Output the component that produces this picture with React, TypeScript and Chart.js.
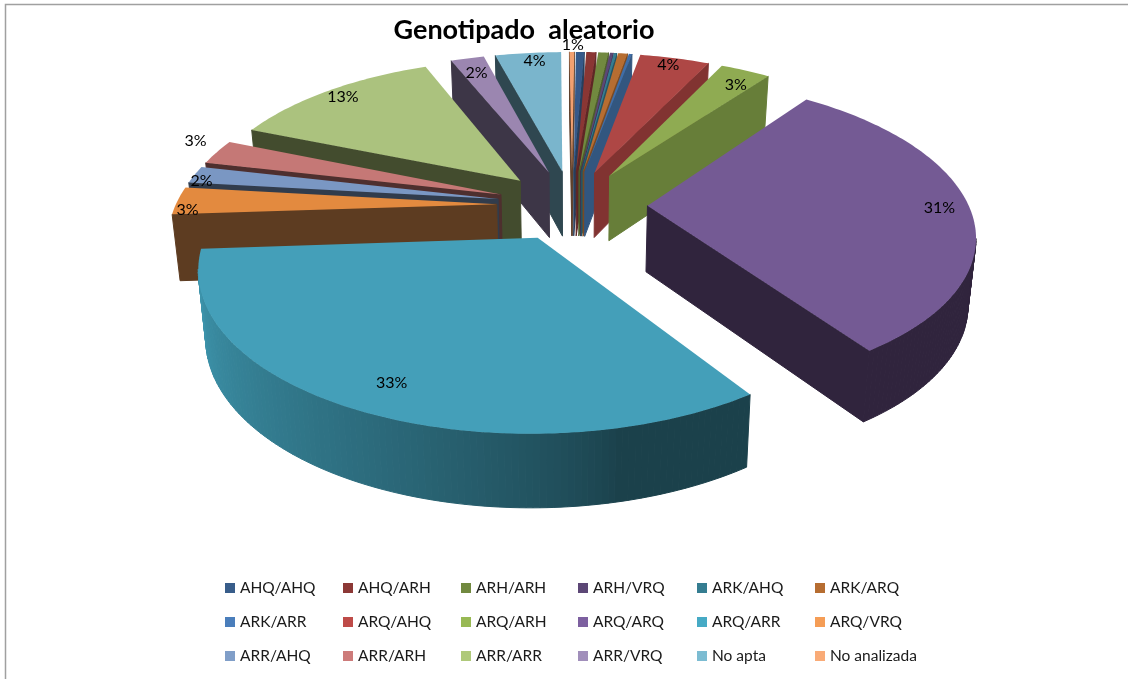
import React, { useEffect, useRef } from "react";
import { Chart, registerables } from "chart.js";

Chart.register(...registerables);

const categories = [
  "AHQ/AHQ", "AHQ/ARH", "ARH/ARH", "ARH/VRQ", "ARK/AHQ", "ARK/ARQ",
  "ARK/ARR", "ARQ/AHQ", "ARQ/ARH", "ARQ/ARQ", "ARQ/ARR", "ARQ/VRQ",
  "ARR/AHQ", "ARR/ARH", "ARR/ARR", "ARR/VRQ", "No apta", "No analizada",
];
const shares = [0.5, 0.58, 0.61, 0.19, 0.17, 0.56, 0.19, 4.19, 3.0, 30.41, 33.39, 2.89, 1.78, 2.61, 12.67, 2.0, 3.97, 0.29];
const percentLabels = ["", "", "", "", "", "", "", "4%", "3%", "31%", "33%", "3%", "2%", "3%", "13%", "2%", "4%", "1%"];
const legendColors = [
  "#385D8A", "#8C3836", "#71893F", "#5C4776", "#357D91", "#B66D31",
  "#4A7EBB", "#BE4B48", "#98B954", "#7D60A0", "#46AAC5", "#F59D56",
  "#809EC8", "#CD7B7A", "#AFC97A", "#A18FBB", "#7CBCD2", "#F9AB77",
];
const topColors = [
  "#36598A", "#8A3634", "#71893F", "#5C4776", "#357D91", "#B66D31",
  "#3F6EA8", "#AE4745", "#8FAB52", "#745A94", "#449FB9", "#E38A3F",
  "#7A97C3", "#C57876", "#ABC27E", "#9B86B0", "#7AB5CC", "#F2A070",
];
const labelReach = [0.9, 0.9, 0.9, 0.9, 0.9, 0.9, 0.9, 0.95, 0.88, 0.905, 0.88, 0.95, 0.96, 1.12, 0.9, 0.9, 0.95, 1.07];
const labelNudge = [
  [0, 0], [0, 0], [0, 0], [0, 0], [0, 0], [0, 0], [0, 0],
  [-3, 2], [5, 3], [0, -1], [9, -3], [-6, 9], [-5, 5], [11, -7], [-3, -2], [2, 4], [5, 3], [1, 0],
];

const FONT = "Lato, 'Open Sans', sans-serif";
const view = { cx: 572, cy: 205, rx: 321, ry: 150, k: 0.17, depth: 66, explode: 0.235 };
const legendCols = [225, 343, 461, 578, 697, 815];
const legendRows = [588, 622, 656];

const rgb = (hex: string) => [1, 3, 5].map((i) => parseInt(hex.slice(i, i + 2), 16));
const tone = (hex: string, f: number) => {
  const [r, g, b] = rgb(hex);
  return `rgb(${Math.round(r * f)},${Math.round(g * f)},${Math.round(b * f)})`;
};

const project = (x: number, y: number, low = false) => {
  const s = 1 / (1 - view.k * y);
  return low
    ? { X: view.cx + view.rx * x * s * 0.98, Y: view.cy + view.ry * y * s + view.depth * Math.sqrt(s) }
    : { X: view.cx + view.rx * x * s, Y: view.cy + view.ry * y * s };
};

const arcShade = (deg: number) => {
  if (deg < 167) return 0.38;
  return 0.38 + Math.pow(Math.min(1, (deg - 167) / 98), 0.75) * 0.52;
};

const pie3d = {
  id: "pie3d",
  beforeDraw(chart: any) {
    const c = chart.ctx;
    c.save();
    c.fillStyle = "#ffffff";
    c.fillRect(0, 0, chart.width, chart.height);
    c.strokeStyle = "#a0a0a0";
    c.lineWidth = 1.5;
    c.beginPath();
    c.moveTo(chart.width, 4.5);
    c.lineTo(5.5, 4.5);
    c.lineTo(5.5, chart.height);
    c.stroke();
    c.restore();
  },
  beforeDatasetsDraw(chart: any) {
    const c = chart.ctx;
    const arcs = chart.getDatasetMeta(0).data;
    const slices = arcs.map((arc: any, i: number) => {
      const a0 = arc.startAngle + Math.PI / 2;
      const a1 = arc.endAngle + Math.PI / 2;
      const mid = (a0 + a1) / 2;
      return { i, a0, a1, mid, ax: Math.sin(mid) * view.explode, ay: -Math.cos(mid) * view.explode };
    });
    slices.sort((p: any, q: any) => p.ay - q.ay);
    c.save();
    c.lineJoin = "round";
    for (const sl of slices) {
      const color = legendColors[sl.i];
      const world: { x: number; y: number; deg: number }[] = [{ x: sl.ax, y: sl.ay, deg: -1 }];
      const steps = Math.max(2, Math.ceil(((sl.a1 - sl.a0) * 180) / Math.PI));
      for (let n = 0; n <= steps; n++) {
        const a = sl.a0 + ((sl.a1 - sl.a0) * n) / steps;
        world.push({ x: sl.ax + Math.sin(a), y: sl.ay - Math.cos(a), deg: (a * 180) / Math.PI });
      }
      const midDeg = (sl.mid * 180) / Math.PI;
      const flatTone = midDeg < 36 ? 0.68 : 0.38;
      for (let n = 0; n < world.length; n++) {
        const p = world[n];
        const q = world[(n + 1) % world.length];
        const a = project(p.x, p.y);
        const b = project(q.x, q.y);
        if (b.X >= a.X) continue;
        const a2 = project(p.x, p.y, true);
        const b2 = project(q.x, q.y, true);
        const isRim = n > 0 && n < world.length - 1;
        const f = isRim ? (midDeg < 36 ? flatTone : arcShade(p.deg)) : flatTone;
        const fill = tone(color, f);
        c.fillStyle = fill;
        c.strokeStyle = fill;
        c.lineWidth = 1;
        c.beginPath();
        c.moveTo(a.X, a.Y);
        c.lineTo(b.X, b.Y);
        c.lineTo(b2.X, b2.Y);
        c.lineTo(a2.X, a2.Y);
        c.closePath();
        c.fill();
        c.stroke();
      }
      c.fillStyle = topColors[sl.i];
      c.beginPath();
      world.forEach((w, n) => {
        const t = project(w.x, w.y);
        if (n === 0) c.moveTo(t.X, t.Y);
        else c.lineTo(t.X, t.Y);
      });
      c.closePath();
      c.fill();
    }
    c.restore();
    return false;
  },
  afterDraw(chart: any) {
    const c = chart.ctx;
    const arcs = chart.getDatasetMeta(0).data;
    c.save();
    c.fillStyle = "#000000";
    c.font = `16px ${FONT}`;
    c.textAlign = "center";
    c.textBaseline = "middle";
    arcs.forEach((arc: any, i: number) => {
      if (!percentLabels[i]) return;
      const mid = (arc.startAngle + arc.endAngle) / 2 + Math.PI / 2;
      const r = labelReach[i] + view.explode;
      const t = project(Math.sin(mid) * r, -Math.cos(mid) * r);
      c.fillText(percentLabels[i], t.X + labelNudge[i][0], t.Y + labelNudge[i][1]);
    });
    c.textAlign = "left";
    c.font = `15.5px ${FONT}`;
    categories.forEach((name, i) => {
      const x = legendCols[i % 6];
      const y = legendRows[Math.floor(i / 6)];
      c.fillStyle = legendColors[i];
      c.fillRect(x, y - 5, 10, 10);
      c.fillStyle = "#1a1a1a";
      c.fillText(name, x + 15, y);
    });
    c.restore();
  },
};

export default function App() {
  const ref = useRef<HTMLCanvasElement>(null);
  useEffect(() => {
    const chart = new Chart(ref.current as HTMLCanvasElement, {
      type: "pie",
      data: {
        labels: categories,
        datasets: [{ data: shares, backgroundColor: legendColors, borderWidth: 0 }],
      },
      options: {
        responsive: false,
        animation: false,
        rotation: 0.5,
        layout: { padding: { right: 80, top: 14 } },
        plugins: {
          legend: { display: false },
          tooltip: { enabled: false },
          title: {
            display: true,
            text: "Genotipado  aleatorio",
            color: "#000000",
            font: { family: FONT, size: 27, weight: "bold" },
            padding: 0,
          },
        },
      },
      plugins: [pie3d],
    } as any);
    return () => chart.destroy();
  }, []);
  return (
    <div style={{ position: "fixed", left: 0, top: 0 }}>
      <canvas ref={ref} width={1128} height={679} style={{ display: "block" }} />
    </div>
  );
}
